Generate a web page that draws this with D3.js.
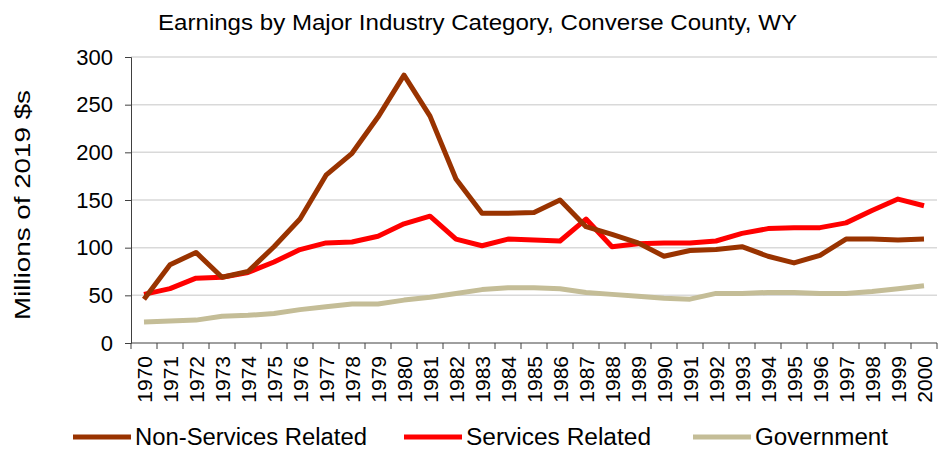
<!DOCTYPE html>
<html>
<head>
<meta charset="utf-8">
<script src="https://cdn.jsdelivr.net/npm/d3@7"></script>
<style>
body { margin: 0; background: #fff; }
text { font-family: "Liberation Sans", Arial, sans-serif; fill: #000; }
</style>
</head>
<body>
<svg id="chart" width="946" height="449"></svg>
<script>
var years = d3.range(1970, 2001).map(String);
var nonServices = [46, 82, 95, 69, 75, 101, 130, 176, 199, 237, 281, 238, 172, 136, 136, 137, 150, 122, 114, 105,
  91, 97, 98, 101, 91, 84, 92, 109, 109, 108, 109];
var services = [51, 57, 68, 69, 74, 85, 98, 105, 106, 112, 125, 133, 109, 102, 109, 108, 107, 130, 101, 104,
  105, 105, 107, 115, 120, 121, 121, 126, 139, 151, 144];
var government = [22, 23, 24, 28, 29, 31, 35, 38, 41, 41, 45, 48, 52, 56, 58, 58, 57, 53, 51, 49,
  47, 46, 52, 52, 53, 53, 52, 52, 54, 57, 60];
var yTicks = [0, 50, 100, 150, 200, 250, 300];

var series = [
  { name: "Non-Services Related", values: nonServices, color: "#993300", lx: 73, tw: 232 },
  { name: "Services Related", values: services, color: "#FF0000", lx: 404, tw: 185 },
  { name: "Government", values: government, color: "#C4BD97", lx: 693, tw: 133 }
];

var svg = d3.select("#chart");
var plotLeft = 131, plotRight = 937, plotTop = 57, plotBottom = 343;

var x = d3.scaleBand().domain(years).range([plotLeft, plotRight]);
var y = d3.scaleLinear().domain([0, 300]).range([plotBottom, plotTop]);

// grid
svg.append("g").selectAll("line").data(yTicks.slice(1)).enter().append("line")
  .attr("x1", plotLeft).attr("x2", plotRight)
  .attr("y1", function(d) { return y(d); }).attr("y2", function(d) { return y(d); })
  .attr("stroke", "#d9d9d9").attr("stroke-width", 1.5);

// y axis
var yAxis = svg.append("g").attr("transform", "translate(" + plotLeft + ",0)")
  .call(d3.axisLeft(y).tickValues(yTicks).tickSize(6).tickPadding(12));
yAxis.select(".domain").attr("stroke", "#404040");
yAxis.selectAll(".tick line").attr("stroke", "#404040");
yAxis.selectAll("text").attr("font-size", 22).attr("fill", "#000");

// x axis (ticks between categories)
var xAxis = svg.append("g").attr("transform", "translate(0," + plotBottom + ")");
xAxis.append("line").attr("x1", plotLeft).attr("x2", plotRight).attr("y1", 0).attr("y2", 0).attr("stroke", "#404040");
xAxis.selectAll("line.tk").data(years.concat(["end"])).enter().append("line")
  .attr("class", "tk")
  .attr("x1", function(d, i) { return plotLeft + i * x.step(); })
  .attr("x2", function(d, i) { return plotLeft + i * x.step(); })
  .attr("y1", 0).attr("y2", 6).attr("stroke", "#404040");
xAxis.selectAll("text").data(years).enter().append("text")
  .attr("transform", function(d) { return "translate(" + (x(d) + x.bandwidth() / 2 + 8) + ",13) rotate(-90)"; })
  .attr("text-anchor", "end")
  .attr("font-size", 21)
  .text(function(d) { return d; });

// lines
var line = d3.line()
  .x(function(d, i) { return x(years[i]) + x.bandwidth() / 2; })
  .y(function(d) { return y(d); });

svg.append("g").selectAll("path").data(series.slice().reverse()).enter().append("path")
  .attr("d", function(s) { return line(s.values); })
  .attr("fill", "none")
  .attr("stroke", function(s) { return s.color; })
  .attr("stroke-width", 5)
  .attr("stroke-linejoin", "round");

// title
svg.append("text").attr("x", 158).attr("y", 30)
  .attr("font-size", 22).attr("textLength", 639).attr("lengthAdjust", "spacingAndGlyphs")
  .text("Earnings by Major Industry Category, Converse County, WY");

// y label
svg.append("text").attr("transform", "translate(30,205) rotate(-90)")
  .attr("text-anchor", "middle").attr("font-size", 22)
  .attr("textLength", 230).attr("lengthAdjust", "spacingAndGlyphs")
  .text("Millions of 2019 $s");

// legend
var lg = svg.append("g").selectAll("g").data(series).enter().append("g")
  .attr("transform", function(d) { return "translate(" + d.lx + ",437)"; });
lg.append("line").attr("x1", 0).attr("x2", 58).attr("y1", 0).attr("y2", 0)
  .attr("stroke", function(d) { return d.color; }).attr("stroke-width", 5);
lg.append("text").attr("x", 62).attr("y", 8).attr("font-size", 23)
  .attr("textLength", function(d) { return d.tw; }).attr("lengthAdjust", "spacingAndGlyphs")
  .text(function(d) { return d.name; });
</script>
</body>
</html>
